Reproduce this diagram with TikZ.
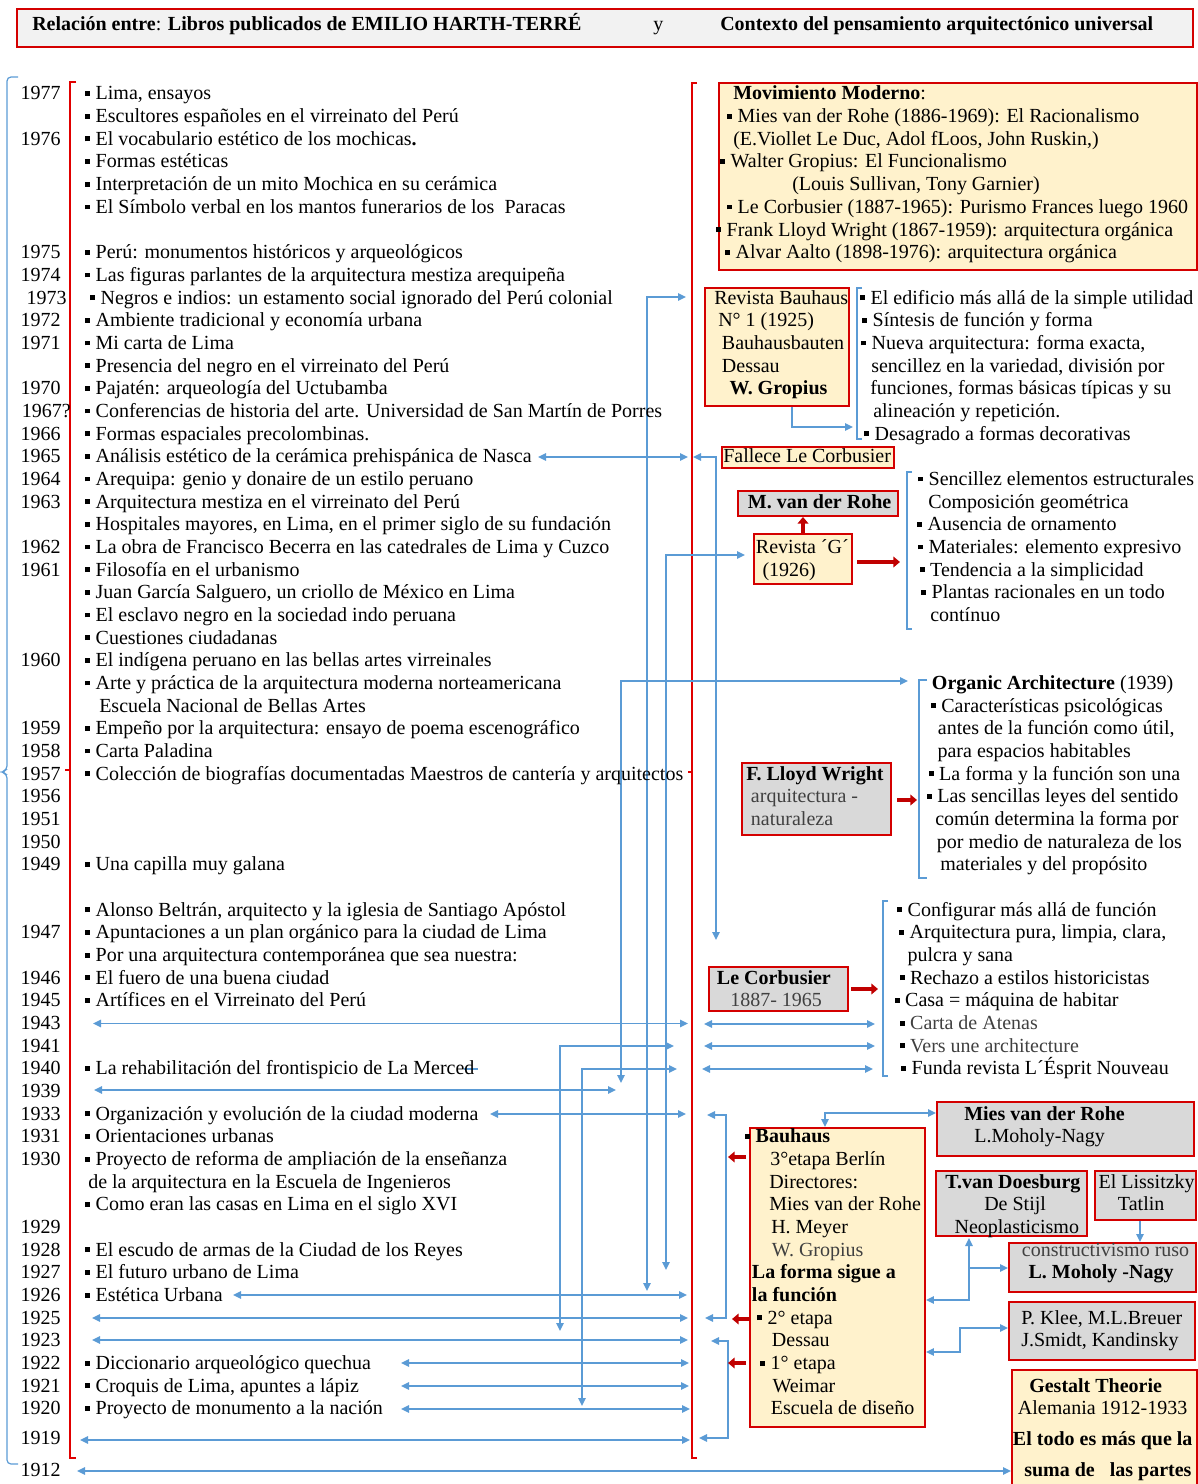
\documentclass[tikz,border=0pt]{standalone}
\usepackage{fontspec}
\setmainfont{Liberation Serif}
\usetikzlibrary{arrows.meta,fit}
\definecolor{bblue}{HTML}{5B9BD5}
\definecolor{bred}{HTML}{D40000}
\definecolor{ared}{HTML}{C00000}
\definecolor{lred}{HTML}{E00000}
\definecolor{byel}{HTML}{FFF2CC}
\definecolor{bgrey}{HTML}{D9D9D9}
\definecolor{hgrey}{HTML}{F2F2F2}
\definecolor{dgrey}{HTML}{404040}
\newcounter{nn}
\newcommand\fs{\fontsize{15}{17}\selectfont}
\newcommand\bq{\rule[0.2em]{0.24em}{0.24em}\hspace{0.28em}}
\newcommand\ptx[3][]{\stepcounter{nn}\node[txt,#1] (n\thenn) at (#2) {#3};}
\newcommand\pyr[3][61]{\stepcounter{nn}\node[yr] (n\thenn) at (#1,#2) {#3};}
\begin{document}
\begin{tikzpicture}[x=0.75pt,y=-0.75pt,
 txt/.style={anchor=base west, inner sep=0pt, font=\fs},
 yr/.style={anchor=base east, inner sep=0pt, font=\fs},
 ybox/.style={draw=bred, fill=byel, line width=1.4pt, inner sep=0pt},
 gbox/.style={draw=bred, fill=bgrey, line width=1.4pt, inner sep=0pt},
 con/.style={draw=bblue, line width=1.3pt, >={Triangle[length=6pt,width=5.5pt]}, <->},
 cone/.style={draw=bblue, line width=1.3pt, >={Triangle[length=6pt,width=5.5pt]}, ->},
 brk/.style={draw=bblue, line width=0.9pt},
 rbrk/.style={draw=lred, line width=1pt},
 rarr/.style={draw=ared, line width=3.5pt, -{Triangle[length=5pt,width=8pt]}}]
\useasboundingbox (0,0) rectangle (1198,1484);
% header
\node[draw=bred, fill=hgrey, line width=1.5pt, inner sep=0pt, fit={(17,9) (1193,47)}] (hdr) {};
\ptx{32,31}{\textbf{Relación entre}: \textbf{Libros publicados de EMILIO HARTH-TERRÉ}}
\ptx{653,31}{y}
\ptx{720,31}{\textbf{Contexto del pensamiento arquitectónico universal}}
% brackets
\draw[brk, rounded corners=3pt] (18,77) -- (7,77) -- (7,770) -- (1,772) -- (7,774) -- (7,1464) -- (18,1464);
\draw[rbrk] (76,82) -- (70,82) -- (70,1458) -- (76,1458);
\draw[rbrk] (65,770) -- (70,770);
\draw[rbrk] (697,83) -- (692,83) -- (692,1458) -- (697,1458);
\draw[rbrk] (688,772) -- (692,772);
% boxes
\node[ybox, fit={(719,83) (1197,270)}] (mm) {};
\node[ybox, fit={(705,288) (849,406)}] (rb) {};
\node[ybox, fit={(722,447) (894,468)}] (fl) {};
\node[gbox, fit={(738,491) (898,516)}] (mr) {};
\node[ybox, fit={(754,534) (852,584)}] (rg) {};
\node[gbox, fit={(742,763) (891,835)}] (flw) {};
\node[gbox, fit={(709,967) (848,1011)}] (lc) {};
\node[ybox, fit={(750,1128) (925,1427)}] (bh) {};
\node[gbox, fit={(937,1102) (1194,1156)}] (mv) {};
\node[gbox, fit={(936,1171) (1087,1236)}] (td) {};
\node[gbox, fit={(1095,1171) (1196,1220)}] (el) {};
\node[gbox, fit={(1009,1243) (1196,1292)}] (cr) {};
\node[gbox, fit={(1009,1302) (1195,1360)}] (pk) {};
\node[ybox, fit={(1012,1370) (1197,1500)}] (gt) {};
% blue brackets right
\draw[brk] (862,288) -- (857,288) -- (857,439) -- (862,439);
\draw[brk] (912,472) -- (907,472) -- (907,629) -- (912,629);
\draw[brk] (927,680) -- (919,680) -- (919,878) -- (927,878);
\draw[brk] (888,901) -- (883,901) -- (883,1076) -- (888,1076);
% long blue connectors
\draw[con] (686,297) -- (647,297) -- (647,1291);
\draw[con] (745,555) -- (666,555) -- (666,1270);
\draw[con] (908,681) -- (621,681) -- (621,1083);
\draw[con] (674,1046) -- (560,1046) -- (560,1331);
\draw[con] (677,1069) -- (582,1069) -- (582,1406);
\draw[con] (693,457) -- (716,457) -- (716,940);
\draw[con] (538,457) -- (688,457);
\draw[con] (93,1023.5) -- (688,1023.5);
\draw[con] (94,1090) -- (616,1090);
\draw[con] (490,1114) -- (686,1114);
\draw[con] (233,1295) -- (687,1295);
\draw[con] (92,1318) -- (688,1318);
\draw[con] (92,1340) -- (688,1340);
\draw[con] (401,1363) -- (689,1363);
\draw[con] (401,1386) -- (689,1386);
\draw[con] (401,1409) -- (690,1409);
\draw[con] (80,1440) -- (690,1440);
\draw[con] (77,1471) -- (gt.west |- 0,1471);
\draw[bblue, line width=1pt] (464,1069) -- (478,1069);
% right side connectors
\draw[cone] (rb.south -| 792,0) -- (792,427) -- (853,427);
\draw[con] (704,1024) -- (875,1024);
\draw[con] (704,1046) -- (875,1046);
\draw[con] (702,1069) -- (873,1069);
\draw[con] (707,1115) -- (726,1115) -- (726,1318) -- (705,1318);
\draw[con] (711,1341) -- (728,1341) -- (728,1438) -- (699,1438);
\draw[con] (825,1127) -- (825,1113) -- (mv.west |- 0,1113);
\draw[con] (bh.east |- 0,1300) -- (969,1300) -- (969,1238);
\draw[cone] (969,1268) -- (cr.west |- 0,1268);
\draw[cone] (el.south -| 1140,0) -- (cr.north -| 1140,0);
\draw[con] (bh.east |- 0,1352) -- (960,1352) -- (960,1328) -- (pk.west |- 0,1328);
% red thick arrows
\draw[rarr] (rg.north -| 803,0) -- (mr.south -| 803,0);
\draw[rarr] (857,562) -- (900,562);
\draw[rarr] (897,800) -- (917,800);
\draw[rarr] (851,989) -- (878,989);
\draw[rarr] (746,1157) -- (728,1157);
\draw[rarr] (750,1319) -- (732,1319);
\draw[rarr] (746,1363) -- (728,1363);
% left column
\pyr{100}{1977} \ptx{85,100}{\bq Lima, ensayos}
\ptx{85,122.7}{\bq Escultores españoles en el virreinato del Perú}
\pyr{145.3}{1976} \ptx{85,145.3}{\bq El vocabulario estético de los mochicas\textbf{.}}
\ptx{85,168}{\bq Formas estéticas}
\ptx{85,190.7}{\bq Interpretación de un mito Mochica en su cerámica}
\ptx{85,213.4}{\bq El Símbolo verbal en los mantos funerarios de los\ \ Paracas}
\pyr{258.7}{1975} \ptx{85,258.7}{\bq Perú: monumentos históricos y arqueológicos}
\pyr{281.4}{1974} \ptx{85,281.4}{\bq Las figuras parlantes de la arquitectura mestiza arequipeña}
\pyr[67]{304}{1973} \ptx{90,304}{\bq Negros e indios: un estamento social ignorado del Perú colonial}
\pyr{326.7}{1972} \ptx{85,326.7}{\bq Ambiente tradicional y economía urbana}
\pyr{349.4}{1971} \ptx{85,349.4}{\bq Mi carta de Lima}
\ptx{85,372}{\bq Presencia del negro en el virreinato del Perú}
\pyr{394.7}{1970} \ptx{85,394.7}{\bq Pajatén: arqueología del Uctubamba}
\pyr[71]{417.4}{1967?} \ptx{85,417.4}{\bq Conferencias de historia del arte. Universidad de San Martín de Porres}
\pyr{440.1}{1966} \ptx{85,440.1}{\bq Formas espaciales precolombinas.}
\pyr{462.7}{1965} \ptx{85,462.7}{\bq Análisis estético de la cerámica prehispánica de Nasca}
\pyr{485.4}{1964} \ptx{85,485.4}{\bq Arequipa: genio y donaire de un estilo peruano}
\pyr{508.1}{1963} \ptx{85,508.1}{\bq Arquitectura mestiza en el virreinato del Perú}
\ptx{85,530.7}{\bq Hospitales mayores, en Lima, en el primer siglo de su fundación}
\pyr{553.4}{1962} \ptx{85,553.4}{\bq La obra de Francisco Becerra en las catedrales de Lima y Cuzco}
\pyr{576.1}{1961} \ptx{85,576.1}{\bq Filosofía en el urbanismo}
\ptx{85,598.7}{\bq Juan García Salguero, un criollo de México en Lima}
\ptx{85,621.4}{\bq El esclavo negro en la sociedad indo peruana}
\ptx{85,644.1}{\bq Cuestiones ciudadanas}
\pyr{666.8}{1960} \ptx{85,666.8}{\bq El indígena peruano en las bellas artes virreinales}
\ptx{85,689.4}{\bq Arte y práctica de la arquitectura moderna norteamericana}
\ptx{99,712.1}{Escuela Nacional de Bellas Artes}
\pyr{734.8}{1959} \ptx{85,734.8}{\bq Empeño por la arquitectura: ensayo de poema escenográfico}
\pyr{757.4}{1958} \ptx{85,757.4}{\bq Carta Paladina}
\pyr{780.1}{1957} \ptx{85,780.1}{\bq Colección de biografías documentadas Maestros de cantería y arquitectos}
\pyr{802.8}{1956}
\pyr{825.4}{1951}
\pyr{848.1}{1950}
\pyr{870.8}{1949} \ptx{85,870.8}{\bq Una capilla muy galana}
\ptx{85,916.1}{\bq Alonso Beltrán, arquitecto y la iglesia de Santiago Apóstol}
\pyr{938.8}{1947} \ptx{85,938.8}{\bq Apuntaciones a un plan orgánico para la ciudad de Lima}
\ptx{85,961.5}{\bq Por una arquitectura contemporánea que sea nuestra:}
\pyr{984.1}{1946} \ptx{85,984.1}{\bq El fuero de una buena ciudad}
\pyr{1006.8}{1945} \ptx{85,1006.8}{\bq Artífices en el Virreinato del Perú}
\pyr{1029.5}{1943}
\pyr{1052.1}{1941}
\pyr{1074.8}{1940} \ptx{85,1074.8}{\bq La rehabilitación del frontispicio de La Merced}
\pyr{1097.5}{1939}
\pyr{1120.2}{1933} \ptx{85,1120.2}{\bq Organización y evolución de la ciudad moderna}
\pyr{1142.8}{1931} \ptx{85,1142.8}{\bq Orientaciones urbanas}
\pyr{1165.5}{1930} \ptx{85,1165.5}{\bq Proyecto de reforma de ampliación de la enseñanza}
\ptx{88,1188.2}{de la arquitectura en la Escuela de Ingenieros}
\ptx{85,1210.8}{\bq Como eran las casas en Lima en el siglo XVI}
\pyr{1233.5}{1929}
\pyr{1256.2}{1928} \ptx{85,1256.2}{\bq El escudo de armas de la Ciudad de los Reyes}
\pyr{1278.8}{1927} \ptx{85,1278.8}{\bq El futuro urbano de Lima}
\pyr{1301.5}{1926} \ptx{85,1301.5}{\bq Estética Urbana}
\pyr{1324.2}{1925}
\pyr{1346.9}{1923}
\pyr{1369.5}{1922} \ptx{85,1369.5}{\bq Diccionario arqueológico quechua}
\pyr{1392.2}{1921} \ptx{85,1392.2}{\bq Croquis de Lima, apuntes a lápiz}
\pyr{1414.9}{1920} \ptx{85,1414.9}{\bq Proyecto de monumento a la nación}
\pyr{1444}{1919}
\pyr{1476}{1912}
% Movimiento Moderno
\ptx{733,99.3}{\textbf{Movimiento Moderno}:}
\ptx{727,122.7}{\bq Mies van der Rohe (1886-1969): El Racionalismo}
\ptx{733,145.3}{(E.Viollet Le Duc, Adol fLoos, John Ruskin,)}
\ptx{720,168}{\bq Walter Gropius: El Funcionalismo}
\ptx{792,190.7}{(Louis Sullivan, Tony Garnier)}
\ptx{727,213.4}{\bq Le Corbusier (1887-1965): Purismo Frances luego 1960}
\ptx{716,236}{\bq Frank Lloyd Wright (1867-1959): arquitectura orgánica}
\ptx{725,258.7}{\bq Alvar Aalto (1898-1976): arquitectura orgánica}
% Revista Bauhaus
\ptx{714,304}{Revista Bauhaus}
\ptx{718,326.7}{N° 1 (1925)}
\ptx{721.7,349.4}{Bauhausbauten}
\ptx{721.7,372}{Dessau}
\ptx{729.3,394.7}{\textbf{W. Gropius}}
\ptx{860,304}{\bq El edificio más allá de la simple utilidad}
\ptx{862,326.7}{\bq Síntesis de función y forma}
\ptx{861,349.4}{\bq Nueva arquitectura: forma exacta,}
\ptx{871,372}{sencillez en la variedad, división por}
\ptx{870,394.7}{funciones, formas básicas típicas y su}
\ptx{873,417.4}{alineación y repetición.}
\ptx{864,440.1}{\bq Desagrado a formas decorativas}
% Fallece / Revista G
\ptx{723,462.7}{Fallece Le Corbusier}
\ptx{747.7,508.1}{\textbf{M. van der Rohe}}
\ptx{755.7,553.4}{Revista ´G´}
\ptx{762.3,576.1}{(1926)}
\ptx{918,485.4}{\bq Sencillez elementos estructurales}
\ptx{928,508.1}{Composición geométrica}
\ptx{917,530.7}{\bq Ausencia de ornamento}
\ptx{918,553.4}{\bq Materiales: elemento expresivo}
\ptx{919.5,576.1}{\bq Tendencia a la simplicidad}
\ptx{921,598.7}{\bq Plantas racionales en un todo}
\ptx{930,621.4}{contínuo}
% Organic
\ptx{931.7,689.4}{\textbf{Organic Architecture} (1939)}
\ptx{930.7,712.1}{\bq Características psicológicas}
\ptx{937.7,734.8}{antes de la función como útil,}
\ptx{937.3,757.4}{para espacios habitables}
\ptx{928.5,780.1}{\bq La forma y la función son una}
\ptx{926.7,802.8}{\bq Las sencillas leyes del sentido}
\ptx{935,825.4}{común determina la forma por}
\ptx{936.7,848.1}{por medio de naturaleza de los}
\ptx{940,870.8}{materiales y del propósito}
\ptx{746,780.1}{\textbf{F. Lloyd Wright}}
\ptx[dgrey]{750.7,802.8}{arquitectura -}
\ptx[dgrey]{750.7,825.4}{naturaleza}
% Le Corbusier
\ptx{897,916.1}{\bq Configurar más allá de función}
\ptx{899,938.8}{\bq Arquitectura pura, limpia, clara,}
\ptx{907.3,961.5}{pulcra y sana}
\ptx{899.5,984.1}{\bq Rechazo a estilos historicistas}
\ptx{894.5,1006.8}{\bq Casa = máquina de habitar}
\ptx{899.5,1029.5}{\bq \textcolor{dgrey}{Carta de Atenas}}
\ptx{899.5,1052.1}{\bq \textcolor{dgrey}{Vers une architecture}}
\ptx{901,1074.8}{\bq Funda revista L´Ésprit Nouveau}
\ptx{716.7,984.1}{\textbf{Le Corbusier}}
\ptx[dgrey]{730,1006.8}{1887- 1965}
% Bauhaus
\ptx{745,1142.8}{\bq \textbf{Bauhaus}}
\ptx{770,1165.5}{3°etapa Berlín}
\ptx{769,1188.2}{Directores:}
\ptx{769,1210.8}{Mies van der Rohe}
\ptx{771,1233.5}{H. Meyer}
\ptx[dgrey]{771.7,1256.2}{W. Gropius}
\ptx{751.7,1278.8}{\textbf{La forma sigue a}}
\ptx{751.7,1301.5}{\textbf{la función}}
\ptx{757,1324.2}{\bq 2° etapa}
\ptx{771.7,1346.9}{Dessau}
\ptx{760,1369.5}{\bq 1° etapa}
\ptx{772.3,1392.2}{Weimar}
\ptx{770.7,1414.9}{Escuela de diseño}
% right column boxes
\ptx{964,1120.2}{\textbf{Mies van der Rohe}}
\ptx{974,1142.8}{L.Moholy-Nagy}
\ptx{945,1188.2}{\textbf{T.van Doesburg}}
\ptx{984,1210.8}{De Stijl}
\ptx{954.3,1233.5}{Neoplasticismo}
\ptx{1098.3,1188.2}{El Lissitzky}
\ptx{1117.7,1210.8}{Tatlin}
\ptx[dgrey]{1021.7,1256.2}{constructivismo ruso}
\ptx{1028.3,1278.8}{\textbf{L. Moholy -Nagy}}
\ptx{1021,1324.2}{P. Klee, M.L.Breuer}
\ptx{1021,1346.9}{J.Smidt, Kandinsky}
\ptx{1029,1392.2}{\textbf{Gestalt Theorie}}
\ptx{1017.7,1414.9}{Alemania 1912-1933}
\ptx{1012.7,1445}{\textbf{El todo es más que la}}
\ptx{1024,1476.7}{\textbf{suma de \ \ las partes}}
\end{tikzpicture}
\end{document}
